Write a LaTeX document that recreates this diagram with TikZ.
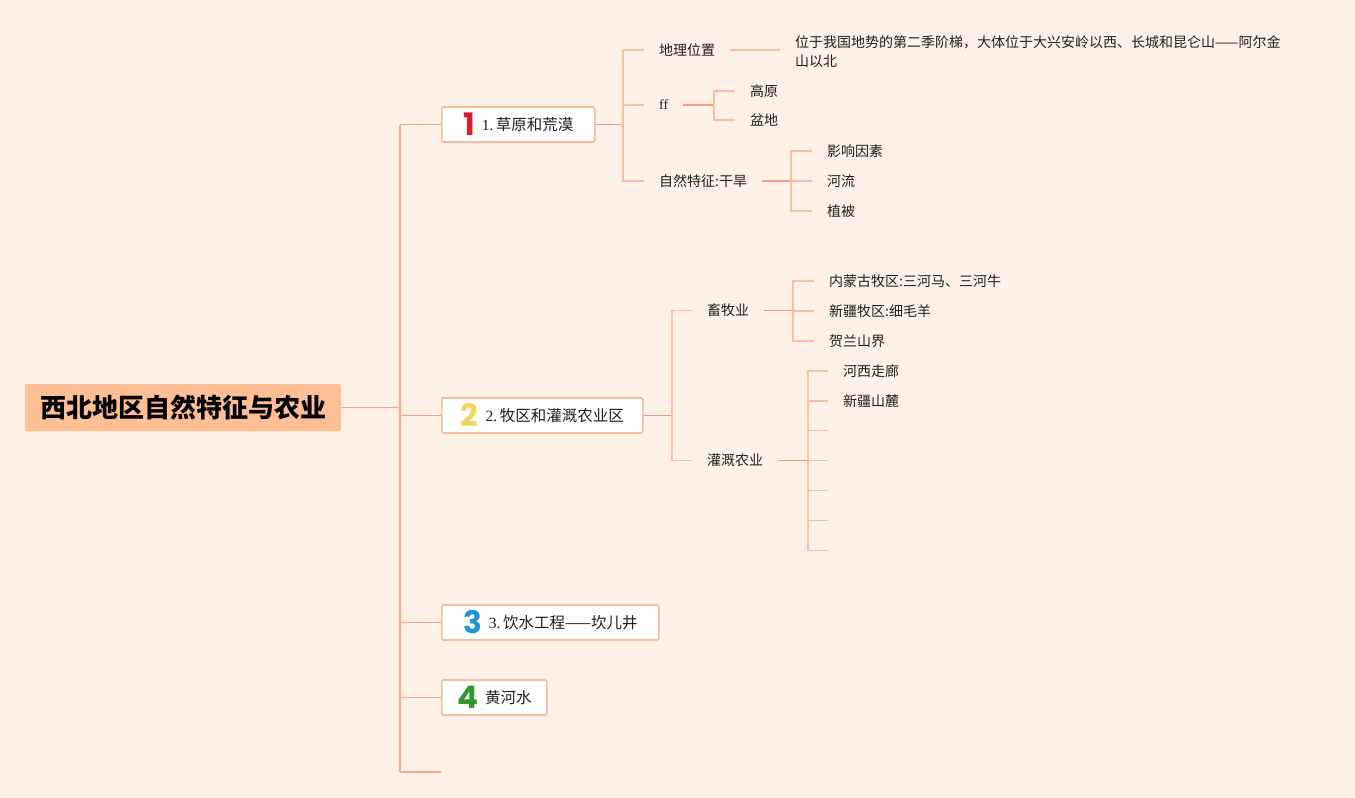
\documentclass[tikz,border=0pt]{standalone}
\usepackage{fontspec}
\setmainfont{Noto Sans CJK SC}
\newfontfamily\numserif{Liberation Serif}
\newfontfamily\iconfont{Poppins}
\definecolor{bgc}{HTML}{FFF1E7}
\definecolor{rootc}{HTML}{FFBF94}
\definecolor{boxb}{HTML}{F6BC9B}
\definecolor{ln}{HTML}{F8BDA2}
\definecolor{lnd}{HTML}{F09C82}
\definecolor{trunkc}{HTML}{F4A98C}
\definecolor{txt}{HTML}{1F1F1F}
\definecolor{nA}{HTML}{D81B2C}
\definecolor{nB}{HTML}{F3D55E}
\definecolor{nC}{HTML}{1E94D6}
\definecolor{nD}{HTML}{2A9A2E}
\newcommand{\ico}[2]{\raisebox{-5pt}[0pt][0pt]{\iconfont\bfseries\fontsize{31}{31}\selectfont\color{#1}#2}\hspace{7pt}}
\begin{document}
\begin{tikzpicture}[x=1pt,y=-1pt,
  rootbox/.style={fill=rootc,rounded corners=2pt,minimum width=316pt,minimum height=47pt,inner sep=0pt,
    font=\fontsize{26}{30}\selectfont\bfseries,text=black},
  mainbox/.style={draw=boxb,line width=1.6pt,fill=white,rounded corners=1.5pt,minimum height=35pt,inner ysep=0pt,inner xsep=0pt,
    text height=13pt,text depth=1.2pt,
    font=\fontsize{15.5}{18}\selectfont,text=txt,anchor=west},
  leaf/.style={inner xsep=15pt,inner ysep=2pt,font=\fontsize{14}{19}\selectfont,text=txt,anchor=west},
  tr/.style={draw=trunkc,line width=1.4pt},
  br/.style={draw=lnd,line width=1.8pt},
  st/.style={draw=ln,line width=1.5pt}]
\fill[bgc] (0,0) rectangle (1355,798);
\useasboundingbox (0,0) rectangle (1355,798);

% root
\node[rootbox] (root) at (183,407.5) {西北地区自然特征与农业};
\coordinate (tmid) at (400,407.5);
\coordinate (ttop) at (400,124.5);
\coordinate (tbot) at (400,772);
\draw[tr] (root.east) -- (tmid);
\draw[tr] (ttop) -- (tbot);

% main boxes
\node[mainbox,minimum width=153pt] (b1) at (441,124.5) {\ico{nA}{1}{\numserif 1.}\,草原和荒漠};
\node[mainbox,minimum width=201pt] (b2) at (441,415.5) {\ico{nB}{2}{\numserif 2.}\,牧区和灌溉农业区};
\node[mainbox,minimum width=217pt] (b3) at (441,622.5) {\ico{nC}{3}{\numserif 3.}\,饮水工程——坎儿井};
\node[mainbox,minimum width=105pt] (b4) at (441,697.5) {\ico{nD}{4}黄河水};
\coordinate (b5) at (441,772);
\draw[tr] (ttop) -- (b1.west);
\draw[tr] (b2.west -| tmid) -- (b2.west);
\draw[tr] (b3.west -| tmid) -- (b3.west);
\draw[tr] (b4.west -| tmid) -- (b4.west);
\draw[tr] (tbot) -- (b5);

% branch 1
\coordinate (j1) at (623,124.5);
\draw[br] (b1.east) -- (j1);
\node[leaf] (c11) at (644,50) {地理位置};
\node[leaf] (c12) at (644,105) {\numserif ff};
\node[leaf] (c13) at (644,181) {自然特征:干旱};
\draw[st] (c11.west) -| (j1);
\draw[st] (c12.west) -- (c12.west -| j1);
\draw[st] (c13.west) -| (j1);

\node[leaf,align=left,inner ysep=0pt] (c11t) at (780,51.5) {位于我国地势的第二季阶梯，大体位于大兴安岭以西、长城和昆仑山——阿尔金\\山以北};
\draw[st] (c11.east) -- (c11.east -| c11t.west);

\coordinate (j12) at (714,105);
\draw[br] (c12.east) -- (j12);
\node[leaf] (g1) at (735,91) {高原};
\node[leaf] (g2) at (735,120) {盆地};
\draw[st] (g1.west) -| (j12);
\draw[st] (g2.west) -| (j12);

\coordinate (j13) at (791,181);
\draw[br] (c13.east) -- (j13);
\node[leaf] (z1) at (812,151) {影响因素};
\node[leaf] (z2) at (812,181) {河流};
\node[leaf] (z3) at (812,211) {植被};
\draw[st] (z1.west) -| (j13);
\draw[st] (z2.west) -- (j13);
\draw[st] (z3.west) -| (j13);

% branch 2
\coordinate (j2) at (672,415.5);
\draw[br] (b2.east) -- (j2);
\node[leaf] (c21) at (692,310.5) {畜牧业};
\node[leaf] (c22) at (692,460.5) {灌溉农业};
\draw[st] (c21.west) -| (j2);
\draw[st] (c22.west) -| (j2);

\coordinate (j21) at (793,310.5);
\draw[br] (c21.east) -- (j21);
\node[leaf] (m1) at (814,281) {内蒙古牧区:三河马、三河牛};
\node[leaf] (m2) at (814,311) {新疆牧区:细毛羊};
\node[leaf] (m3) at (814,341) {贺兰山界};
\draw[st] (m1.west) -| (j21);
\draw[st] (m2.west) -| (j21);
\draw[st] (m3.west) -| (j21);

\coordinate (j22) at (808,460.5);
\draw[br] (c22.east) -- (j22);
\node[leaf] (k1) at (828,371) {河西走廊};
\node[leaf] (k2) at (828,401) {新疆山麓};
\coordinate (k3) at (828,430.5);
\coordinate (k4) at (828,460.5);
\coordinate (k5) at (828,490.5);
\coordinate (k6) at (828,520.5);
\coordinate (k7) at (828,550.5);
\draw[st] (k1.west) -| (j22);
\draw[st] (k2.west) -| (j22);
\draw[st] (k3) -| (j22);
\draw[st] (k4) -- (j22);
\draw[st] (k5) -| (j22);
\draw[st] (k6) -| (j22);
\draw[st] (k7) -| (j22);
\end{tikzpicture}
\end{document}
